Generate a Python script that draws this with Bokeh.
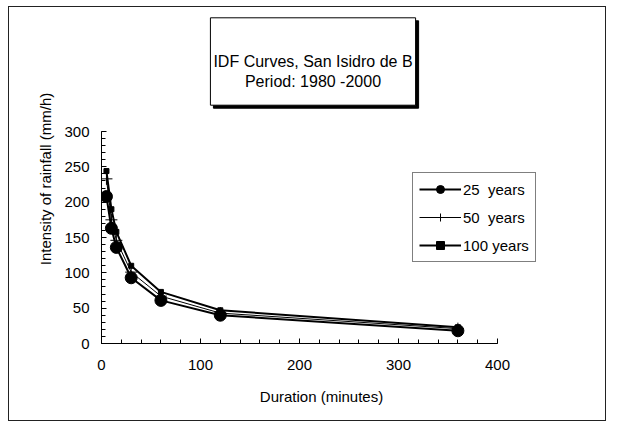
from bokeh.plotting import figure
from bokeh.models import Range1d, Legend, LegendItem, Label, FixedTicker
from bokeh.embed import file_html
from bokeh.resources import INLINE

# ---- data ----
durations = [5, 10, 15, 30, 60, 120, 360]
i25 = [208, 163, 136, 93, 61, 40, 18]
i50 = [233, 175, 146, 101, 67, 43, 21]
i100 = [244, 190, 158, 110, 73, 47, 23]
x_ticks = [0, 100, 200, 300, 400]
y_ticks = [0, 50, 100, 150, 200, 250, 300]
title_lines = ["IDF Curves, San Isidro de B", "Period: 1980 -2000"]
series_labels = ["25  years", "50  years", "100 years"]
x_label = "Duration (minutes)"
y_label = "Intensity of rainfall (mm/h)"

FONT = "Liberation Sans"

# frame: 440 x 329 px; axes occupy 396 px (0..400) and 212 px (0..300)
FRAME_W, FRAME_H = 440, 329
x_end = 400 * FRAME_W / 396
y_end = 300 * FRAME_H / 212

p = figure(width=598, height=415,
           x_range=Range1d(0, x_end), y_range=Range1d(0, y_end),
           output_backend="svg", toolbar_location=None,
           min_border_left=92, min_border_right=66,
           min_border_top=7, min_border_bottom=79)
p.styles = {"border": "1px solid #222222", "margin-left": "8px", "margin-top": "6px"}
p.outline_line_color = None
p.grid.visible = False
p.background_fill_color = "white"
p.border_fill_color = "white"

p.xaxis.ticker = FixedTicker(ticks=x_ticks, minor_ticks=list(range(0, 401, 20)))
p.yaxis.ticker = FixedTicker(ticks=y_ticks, minor_ticks=list(range(0, 301, 10)))
p.xaxis.bounds = (x_ticks[0], x_ticks[-1])
p.yaxis.bounds = (y_ticks[0], y_ticks[-1])
p.xaxis.axis_label = x_label
p.yaxis.axis_label = y_label
for ax in (p.xaxis, p.yaxis):
    ax.axis_line_color = "black"
    ax.axis_line_width = 1
    ax.major_tick_in = 5
    ax.major_tick_out = 0
    ax.minor_tick_in = 4
    ax.minor_tick_out = 0
    ax.major_tick_line_color = "black"
    ax.minor_tick_line_color = "black"
    ax.major_label_text_font = FONT
    ax.major_label_text_font_size = "15px"
    ax.major_label_text_color = "black"
    ax.axis_label_text_font = FONT
    ax.axis_label_text_font_size = "15px"
    ax.axis_label_text_font_style = "normal"
    ax.axis_label_text_color = "black"
p.xaxis.major_label_standoff = 16
p.xaxis.axis_label_standoff = 15
p.yaxis.major_label_standoff = 12
p.yaxis.axis_label_standoff = 7

r25 = p.line(durations, i25, line_color="black", line_width=2)
m25 = p.scatter(durations, i25, marker="circle", size=12, fill_color="black", line_color="black")
r50 = p.line(durations, i50, line_color="black", line_width=1)
m50 = p.scatter(durations, i50, marker="cross", size=12, line_color="black", line_width=1)
r100 = p.line(durations, i100, line_color="black", line_width=2)
m100 = p.scatter(durations, i100, marker="square", size=5, fill_color="black", line_color="black")

legend = Legend(items=[
    LegendItem(label=series_labels[0], renderers=[r25, m25]),
    LegendItem(label=series_labels[1], renderers=[r50, m50]),
    LegendItem(label=series_labels[2], renderers=[r100, m100]),
], location=(311, 81), margin=0, padding=6, spacing=8,
    glyph_width=42, glyph_height=20, label_height=20, label_standoff=2,
    border_line_color="black", border_line_width=1, background_fill_color="white",
    background_fill_alpha=1.0,
    label_text_font=FONT, label_text_font_size="15px", label_text_color="black")
p.add_layout(legend)

title_text = "\n".join(title_lines)
pad = dict(left=3, right=3, top=35, bottom=15)
shadow = Label(x=214.5, y=279, x_units="screen", y_units="screen", text=title_text,
               text_align="center", text_baseline="middle", text_font=FONT,
               text_font_size="16px", text_color="black",
               background_fill_color="black", border_line_color="black",
               padding=pad)
front = Label(x=211.5, y=282, x_units="screen", y_units="screen", text=title_text,
              text_align="center", text_baseline="middle", text_font=FONT,
              text_font_size="16px", text_color="black",
              background_fill_color="white", border_line_color="black",
              border_line_width=1, padding=pad)
p.add_layout(shadow)
p.add_layout(front)

open("out.html", "w").write(file_html(p, INLINE))
